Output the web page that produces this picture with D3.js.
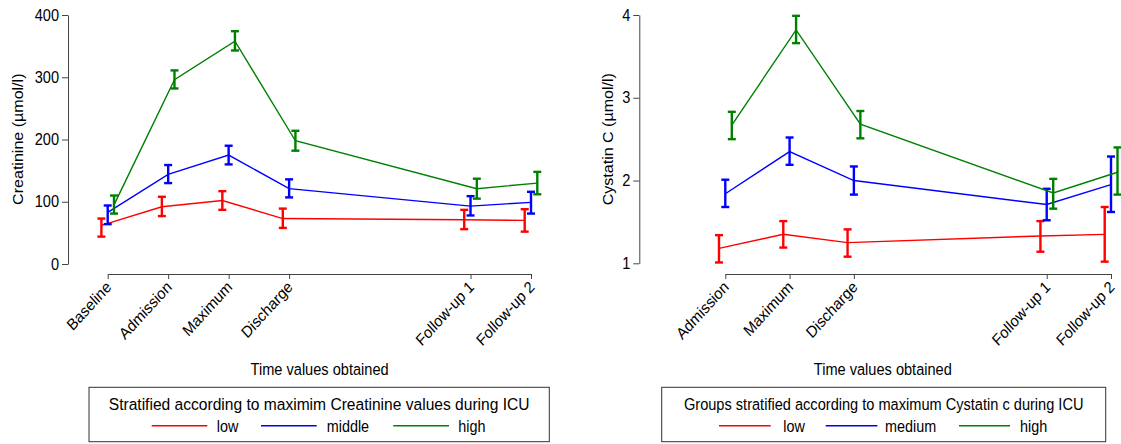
<!DOCTYPE html>
<html><head><meta charset="utf-8">
<script src="https://cdn.jsdelivr.net/npm/d3@7/dist/d3.min.js"></script>
<style>
body{margin:0;background:#fff;}
svg text{font-family:"Liberation Sans",Arial,Helvetica,sans-serif;fill:#000;}
</style></head>
<body><svg id="c" width="1121" height="444"></svg>
<script>
// ---- Left chart data (Creatinine) ----
const creatTimes = ["Baseline","Admission","Maximum","Discharge","Follow-up 1","Follow-up 2"];
const creatTimeVals = [0,1,2,3,6,7];
const creatTicks = [0,100,200,300,400];
const creatLowMean = [62,92,102,73,71,70];
const creatLowLo   = [44,77,87,58,56,52];
const creatLowHi   = [73,108,117,89,87,88];
const creatMidMean = [83,144,175,121,93,99];
const creatMidLo   = [64,130,160,107,78,81];
const creatMidHi   = [94,159,190,136,109,116];
const creatHighMean= [95,296,358,198,121,130];
const creatHighLo  = [81,282,343,182,105,112];
const creatHighHi  = [110,311,374,214,137,148];
const creatGroups  = ["low","middle","high"];

// ---- Right chart data (Cystatin C) ----
const cysTimes = ["Admission","Maximum","Discharge","Follow-up 1","Follow-up 2"];
const cysTimeVals = [1,2,3,6,7];
const cysTicks = [1,2,3,4];
const cysLowMean = [1.18,1.35,1.25,1.33,1.35];
const cysLowLo   = [1.01,1.19,1.08,1.14,1.02];
const cysLowHi   = [1.34,1.51,1.41,1.51,1.68];
const cysMedMean = [1.84,2.35,2.00,1.71,1.95];
const cysMedLo   = [1.68,2.19,1.83,1.52,1.62];
const cysMedHi   = [2.01,2.52,2.17,1.90,2.29];
const cysHighMean= [2.67,3.82,2.68,1.85,2.10];
const cysHighLo  = [2.50,3.66,2.51,1.66,1.83];
const cysHighHi  = [2.83,3.99,2.84,2.02,2.40];
const cysGroups  = ["low","medium","high"];

const colors = ["#ff0000","#0000ff","#008000"];
const FS = 14.6;      // horizontal font size
const SY = 1.1;       // vertical stretch of glyphs in the reference
const svg = d3.select("#c");

function txt(g, x, y, str, o={}){
  const rot = o.rotate ? ` rotate(${o.rotate})` : "";
  return g.append("text")
    .attr("transform",`translate(${x},${y}) scale(1,${SY})${rot}`)
    .attr("text-anchor", o.anchor || "start")
    .attr("font-size", o.fs || FS)
    .text(str);
}

function panel(cfg){
  const g = svg.append("g");
  const y = d3.scaleLinear().domain(cfg.yDomain).range([cfg.yBottom, cfg.yTop]);
  const x = d3.scaleLinear().domain(cfg.xDomain).range(cfg.xRange);

  // y axis
  const ya = g.append("g").attr("transform",`translate(${cfg.yAxisX},0)`)
    .call(d3.axisLeft(y).tickValues(cfg.yTicks).tickFormat(d3.format("d")).tickSize(6).tickPadding(3).tickSizeOuter(0));
  ya.selectAll("path,line").attr("stroke","#444");
  ya.selectAll("text").attr("font-size",FS).attr("fill","#000").attr("transform",`scale(1,${SY})`);

  // x axis
  const xa = g.append("g").attr("transform",`translate(0,${cfg.xAxisY})`)
    .call(d3.axisBottom(x).tickValues(cfg.timeVals).tickSize(5).tickSizeOuter(0).tickFormat((d,i)=>cfg.times[i]));
  xa.selectAll("path,line").attr("stroke","#444");
  xa.selectAll("text").attr("font-size",FS).attr("fill","#000")
    .attr("text-anchor","end").attr("dy",0).attr("y",0)
    .attr("transform",`translate(4,14) scale(1,${SY}) rotate(-45)`);

  // titles
  txt(g, cfg.yTitleX, 139.2, cfg.yTitle, {anchor:"middle", rotate:-90});
  txt(g, cfg.xTitleX, 375, "Time values obtained", {anchor:"middle"});

  // series
  cfg.series.forEach((s,si)=>{
    const pts = cfg.timeVals.map((t,i)=>({x:x(t)+cfg.dodge[si], m:s.mean[i], lo:s.lo[i], hi:s.hi[i]}));
    g.append("path").datum(pts).attr("fill","none").attr("stroke",colors[si]).attr("stroke-width",1.4)
      .attr("d",d3.line().x(d=>d.x).y(d=>y(d.m)));
    const eb = g.append("g").attr("stroke",colors[si]).attr("stroke-width",2.4);
    pts.forEach(d=>{
      eb.append("line").attr("x1",d.x).attr("x2",d.x).attr("y1",y(d.lo)).attr("y2",y(d.hi));
      eb.append("line").attr("x1",d.x-4).attr("x2",d.x+4).attr("y1",y(d.lo)).attr("y2",y(d.lo));
      eb.append("line").attr("x1",d.x-4).attr("x2",d.x+4).attr("y1",y(d.hi)).attr("y2",y(d.hi));
    });
  });

  // legend
  const L = cfg.legend;
  g.append("rect").attr("x",L.x).attr("y",387.3).attr("width",L.w).attr("height",54.4)
    .attr("fill","none").attr("stroke","#333").attr("stroke-width",1);
  txt(g, L.x+L.w/2, 410, cfg.legendTitle, {anchor:"middle", fs:L.titleFs});
  cfg.groups.forEach((name,i)=>{
    const it = L.items[i];
    g.append("line").attr("x1",it[0]).attr("x2",it[1]).attr("y1",425.7).attr("y2",425.7)
      .attr("stroke",colors[i]).attr("stroke-width",1.4);
    txt(g, it[2], 431.5, name, {fs:14.4});
  });
}

panel({
  yDomain:[0,400], yTop:15, yBottom:264, yTicks:creatTicks, yAxisX:68,
  xDomain:[0,7], xRange:[107.7,531], xAxisY:274,
  timeVals:creatTimeVals, times:creatTimes, dodge:[-6.3,0,6.3],
  yTitle:"Creatinine (µmol/l)", yTitleX:22.5, xTitleX:319.6,
  series:[{mean:creatLowMean,lo:creatLowLo,hi:creatLowHi},{mean:creatMidMean,lo:creatMidLo,hi:creatMidHi},{mean:creatHighMean,lo:creatHighLo,hi:creatHighHi}],
  groups:creatGroups, legendTitle:"Stratified according to maximim Creatinine values during ICU",
  legend:{x:89,w:460.3,titleFs:15.6,items:[[151.7,207.3,216.7],[261,316.7,326.7],[393.3,449,458.3]]}
});

panel({
  yDomain:[1,4], yTop:15, yBottom:263.3, yTicks:cysTicks, yAxisX:639.3,
  xDomain:[1,7], xRange:[725.3,1111], xAxisY:274,
  timeVals:cysTimeVals, times:cysTimes, dodge:[-6.3,0,6.5],
  yTitle:"Cystatin C (µmol/l)", yTitleX:612.5, xTitleX:882.8,
  series:[{mean:cysLowMean,lo:cysLowLo,hi:cysLowHi},{mean:cysMedMean,lo:cysMedLo,hi:cysMedHi},{mean:cysHighMean,lo:cysHighLo,hi:cysHighHi}],
  groups:cysGroups, legendTitle:"Groups stratified according to maximum Cystatin c during ICU",
  legend:{x:661.7,w:444,titleFs:14.6,items:[[719,770.7,783.3],[825.7,877.4,885],[959,1010,1020]]}
});
</script></body></html>
